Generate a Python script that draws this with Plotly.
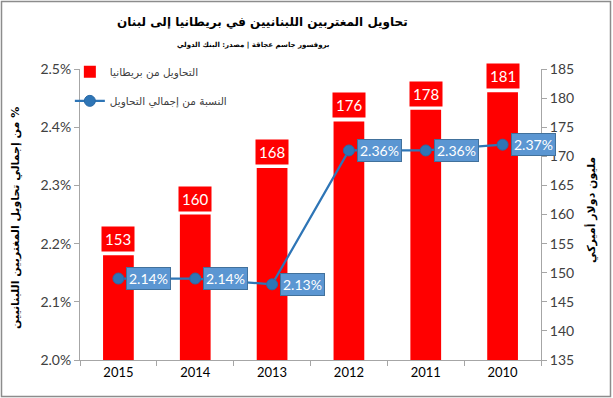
import plotly.graph_objects as go

years = ["2015", "2014", "2013", "2012", "2011", "2010"]
remit_uk = [153, 160, 168, 176, 178, 181]          # million USD
share_pct = [2.14, 2.14, 2.13, 2.36, 2.36, 2.37]   # % of total remittances

title_txt = "تحاويل المغتربين اللبنانيين في بريطانيا إلى لبنان"
subtitle_txt = "بروفسور جاسم عجاقة | مصدر: البنك الدولي"
bar_name = "التحاويل من بريطانيا"
line_name = "النسبة من إجمالي التحاويل"
left_title = "\u200f% من إجمالي تحاويل المغتربين اللبنانيين"
right_title = "مليون دولار أميركي"

FONT = "Lato, 'DejaVu Sans', sans-serif"
AR_FONT = "'DejaVu Sans', sans-serif"
GRAY = "#A6A6A6"
TXT = "#404040"

W, H = 613, 398
L, R, T, B = 80, 72, 69, 38
pw, ph = W - L - R, H - T - B


def px_x(px):
    return (px - L) / pw


def px_y(py_from_top):
    return (H - py_from_top - B) / ph


fig = go.Figure()
fig.add_trace(go.Bar(
    x=years, y=remit_uk, name=bar_name, yaxis="y", legendgroup="a",
    marker=dict(color="#FF0000", line=dict(width=0)), width=0.4,
))
fig.add_trace(go.Scatter(
    x=years, y=share_pct, name=line_name, yaxis="y2", mode="lines+markers", legendgroup="b",
    line=dict(color="#2E75B6", width=2.25),
    marker=dict(size=11, color="#2E75B6", line=dict(color="#2A6AA6", width=1)),
))

annotations = []
for i, v in enumerate(remit_uk):
    annotations.append(dict(
        x=i, y=v, xref="x", yref="y", text=str(v), showarrow=False,
        xanchor="center", yanchor="bottom", yshift=3, bgcolor="#FF0000", borderpad=3,
        font=dict(family=FONT, size=15, color="white"),
    ))
for i, v in enumerate(share_pct):
    annotations.append(dict(
        x=i, y=v, xref="x", yref="y2", text=f"{v:.2f}%", showarrow=False,
        xanchor="left", yanchor="middle", xshift=8, bgcolor="#5B96D2", borderpad=2,
        bordercolor="#41719C", borderwidth=1,
        font=dict(family=FONT, size=14, color="white"),
    ))
annotations += [
    dict(x=px_x(262), y=px_y(23), xref="paper", yref="paper", text=f"<b>{title_txt}</b>",
         xanchor="center", yanchor="middle",
         showarrow=False, font=dict(family=AR_FONT, size=12, color="black")),
    dict(x=px_x(253), y=px_y(45), xref="paper", yref="paper", text=f"<b>{subtitle_txt}</b>",
         xanchor="center", yanchor="middle",
         showarrow=False, font=dict(family=AR_FONT, size=7, color="black")),
    dict(x=px_x(15), y=px_y(218), xref="paper", yref="paper", text=f"<b>{left_title}</b>",
         xanchor="center", yanchor="middle",
         showarrow=False, textangle=-90, font=dict(family=AR_FONT, size=11, color="black")),
    dict(x=px_x(591), y=px_y(210), xref="paper", yref="paper", text=f"<b>{right_title}</b>",
         xanchor="center", yanchor="middle",
         showarrow=False, textangle=-90, font=dict(family=AR_FONT, size=11, color="black")),
]

fig.update_layout(
    width=W, height=H,
    margin=dict(l=L, r=R, t=T, b=B),
    paper_bgcolor="white", plot_bgcolor="white",
    font=dict(family=FONT, size=13, color=TXT),
    showlegend=True,
    legend=dict(x=-0.022, y=1.04, xanchor="left", yanchor="top", bgcolor="rgba(0,0,0,0)",
                font=dict(family=AR_FONT, size=10.5, color=TXT), itemwidth=30,
                tracegroupgap=10),
    xaxis=dict(type="category", range=[-0.5, 5.5], showline=True, linecolor=GRAY, linewidth=1,
               ticks="outside", tickson="boundaries", ticklen=5, tickcolor=GRAY,
               tickfont=dict(family=FONT, size=13, color="black"), showgrid=False),
    yaxis=dict(side="right", range=[135, 185], dtick=5, showline=True, linecolor=GRAY,
               ticks="outside", ticklen=5, tickcolor=GRAY, showgrid=False, zeroline=False,
               tickfont=dict(family=FONT, size=14, color=TXT)),
    yaxis2=dict(side="left", overlaying="y", range=[2.0, 2.5], dtick=0.1, tickformat=".1f",
                ticksuffix="%", showline=True, linecolor=GRAY, ticks="outside", ticklen=5,
                tickcolor=GRAY, showgrid=False, zeroline=False,
                tickfont=dict(family=FONT, size=14, color=TXT)),
    annotations=annotations,
)

fig.add_shape(type="rect", xref="paper", yref="paper",
              x0=px_x(1.5), x1=px_x(W - 2.5),
              y0=px_y(H - 1.5), y1=px_y(1.5),
              line=dict(color="#8C8C8C", width=1.5), layer="below")

fig.write_html(
    "out.html",
    config={"displayModeBar": False},
    post_script="document.body.style.margin='0';document.body.style.overflow='hidden';",
)
